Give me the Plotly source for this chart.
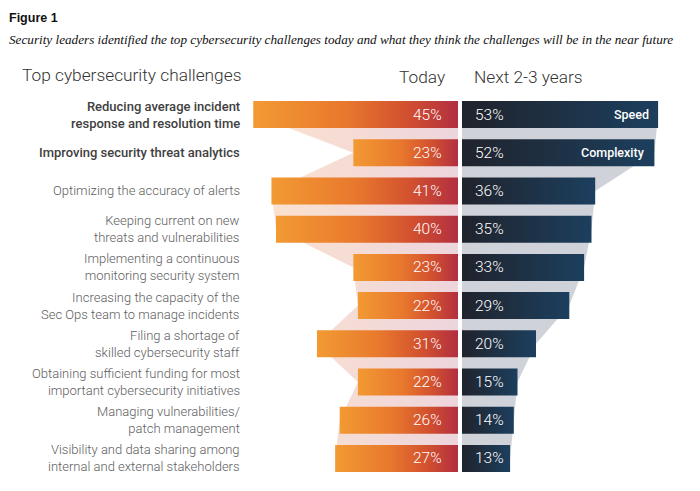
import plotly.graph_objects as go

categories = [
    "Reducing average incident<br>response and resolution time",
    "Improving security threat analytics",
    "Optimizing the accuracy of alerts",
    "Keeping current on new<br>threats and vulnerabilities",
    "Implementing a continuous<br>monitoring security system",
    "Increasing the capacity of the<br>Sec Ops team to manage incidents",
    "Filing a shortage of<br>skilled cybersecurity staff",
    "Obtaining sufficient funding for most<br>important cybersecurity initiatives",
    "Managing vulnerabilities/<br>patch management",
    "Visibility and data sharing among<br>internal and external stakeholders",
]
today = [45, 23, 41, 40, 23, 22, 31, 22, 26, 27]
future = [53, 52, 36, 35, 33, 29, 20, 15, 14, 13]
tags = {0: "Speed", 1: "Complexity"}
bold_rows = [0, 1]

W, H = 700, 491
CX_L, CX_R = 458, 462
PX_L, PX_R = 4.55, 3.7
ROW0, PITCH = 114.5, 38.22
BAR_H = 27 / PITCH

y_top = -ROW0 / PITCH
y_bot = (H - ROW0) / PITCH

rows = list(range(len(categories)))
fig = go.Figure()

# ribbons
fig.add_trace(go.Scatter(
    x=today, y=rows, xaxis="x", yaxis="y", mode="none", fill="tozerox",
    fillgradient=dict(type="horizontal", colorscale=[[0, "#fce2cd"], [1, "#edd5dd"]]),
    hoverinfo="skip", showlegend=False))
fig.add_trace(go.Scatter(
    x=future, y=rows, xaxis="x2", yaxis="y", mode="none", fill="tozerox",
    fillcolor="#cfd2d8", hoverinfo="skip", showlegend=False))

h = BAR_H / 2
for i, (a, b) in enumerate(zip(today, future)):
    fig.add_trace(go.Scatter(
        x=[0, a, a, 0, 0], y=[i - h, i - h, i + h, i + h, i - h],
        xaxis="x", yaxis="y", mode="none", fill="toself",
        fillgradient=dict(type="horizontal",
                          colorscale=[[0, "#f29a33"], [0.45, "#e8782d"], [0.75, "#d2502f"], [1, "#b22f41"]]),
        hoverinfo="skip", showlegend=False))
    fig.add_trace(go.Scatter(
        x=[0, b, b, 0, 0], y=[i - h, i - h, i + h, i + h, i - h],
        xaxis="x2", yaxis="y", mode="none", fill="toself",
        fillgradient=dict(type="horizontal",
                          colorscale=[[0, "#20232c"], [1, "#1c3f5e"]]),
        hoverinfo="skip", showlegend=False))

LFONT = "Roboto"
ann = []
for i, (cat, a, b) in enumerate(zip(categories, today, future)):
    isb = i in bold_rows
    ann.append(dict(x=242 / W, xref="paper", y=i, yref="y", text=cat, showarrow=False,
                    xanchor="right", yanchor="middle", align="right",
                    font=dict(family=LFONT, size=13, color="#404040" if isb else "#5e5e5e",
                              weight=500 if isb else 300)))
    ann.append(dict(x=0, xref="x", y=i, yref="y", text=f"{a}%", showarrow=False,
                    xanchor="right", yanchor="middle", xshift=-14,
                    font=dict(family=LFONT, size=15.5, color="white", weight=300)))
    ann.append(dict(x=0, xref="x2", y=i, yref="y", text=f"{b}%", showarrow=False,
                    xanchor="left", yanchor="middle", xshift=11,
                    font=dict(family=LFONT, size=15.5, color="white", weight=300)))
    if i in tags:
        ann.append(dict(x=b, xref="x2", y=i, yref="y", text=tags[i], showarrow=False,
                        xanchor="right", yanchor="middle", xshift=-7,
                        font=dict(family="Roboto", size=12.5, color="white", weight=500)))

ann += [
    dict(x=7 / W, y=1 - 18 / H, xref="paper", yref="paper", text="<b>Figure 1</b>", showarrow=False,
         xanchor="left", yanchor="middle", font=dict(family="Liberation Sans", size=12.5, color="#111")),
    dict(x=7 / W, y=1 - 40 / H, xref="paper", yref="paper",
         text="<i>Security leaders identified the top cybersecurity challenges today and what they think the challenges will be in the near future</i>",
         showarrow=False, xanchor="left", yanchor="middle",
         font=dict(family="Liberation Serif", size=13.2, color="#111")),
    dict(x=20 / W, y=1 - 75 / H, xref="paper", yref="paper", text="Top cybersecurity challenges",
         showarrow=False, xanchor="left", yanchor="middle",
         font=dict(family=LFONT, size=17.3, color="#333", weight=300)),
    dict(x=447 / W, y=1 - 77 / H, xref="paper", yref="paper", text="Today",
         showarrow=False, xanchor="right", yanchor="middle",
         font=dict(family=LFONT, size=17.3, color="#333", weight=300)),
    dict(x=472 / W, y=1 - 77 / H, xref="paper", yref="paper", text="Next 2-3 years",
         showarrow=False, xanchor="left", yanchor="middle",
         font=dict(family=LFONT, size=17.3, color="#333", weight=300)),
]

fig.update_layout(
    width=W, height=H, margin=dict(l=0, r=0, t=0, b=0),
    paper_bgcolor="white", plot_bgcolor="rgba(0,0,0,0)",
    xaxis=dict(domain=[0, CX_L / W], range=[CX_L / PX_L, 0], visible=False, fixedrange=True),
    xaxis2=dict(domain=[CX_R / W, 1], range=[0, (W - CX_R) / PX_R], visible=False, fixedrange=True),
    yaxis=dict(domain=[0, 1], range=[y_bot, y_top], visible=False, fixedrange=True),
    annotations=ann, showlegend=False,
)

fig.write_html("out.html")
